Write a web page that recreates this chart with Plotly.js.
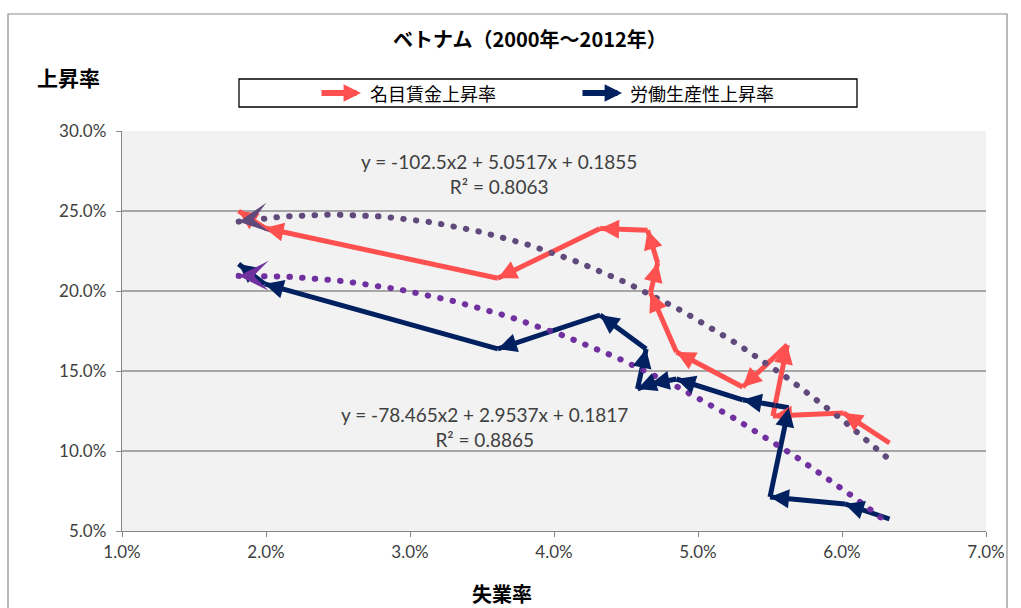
<!DOCTYPE html>
<html>
<head>
<meta charset="utf-8">
<script src="https://cdn.plot.ly/plotly-3.0.1.min.js"></script>
<style>
  html, body { margin: 0; padding: 0; background: #ffffff; }
  #chart { width: 1021px; height: 608px; }
  /* round caps turn the dotted trend lines into dots */
  .scatterlayer .js-line { stroke-linecap: round; }
</style>
</head>
<body>
<div id="chart"></div>
<script>
// Unemployment rate (x) vs. nominal wage growth / labour productivity growth (y), 2000-2012
const wageX = [0.0633, 0.0601, 0.0552, 0.0562, 0.0531, 0.0485, 0.0467, 0.0472, 0.0465, 0.0432, 0.0361, 0.0199, 0.0181];
const wageY = [0.1050, 0.1238, 0.1219, 0.1663, 0.1400, 0.1619, 0.1990, 0.2175, 0.2380, 0.2390, 0.2080, 0.2394, 0.2500];
const prodX = [0.0633, 0.0602, 0.0550, 0.0563, 0.0531, 0.0485, 0.0467, 0.0458, 0.0464, 0.0432, 0.0361, 0.0199, 0.0181];
const prodY = [0.0575, 0.0669, 0.0713, 0.1270, 0.1320, 0.1450, 0.1419, 0.1388, 0.1638, 0.1850, 0.1638, 0.2044, 0.2169];

// Polynomial (order 2) trend coefficients [a, b, c] for y = a x^2 + b x + c
const wageTrend = [-102.5, 5.0517, 0.1855];
const prodTrend = [-78.465, 2.9537, 0.1817];
const wageR2 = 0.8063;
const prodR2 = 0.8865;

const seriesNames = ['名目賃金上昇率', '労働生産性上昇率'];
const xTicks = [0.01, 0.02, 0.03, 0.04, 0.05, 0.06, 0.07];
const yTicks = [0.05, 0.10, 0.15, 0.20, 0.25, 0.30];

const RED = '#ff5050';
const NAVY = '#002060';
const WAGE_TREND = '#604a7b';
const PROD_TREND = '#7030a0';

function trendCurve(coef, xs) {
  const lo = Math.min.apply(null, xs), hi = Math.max.apply(null, xs);
  const px = [], py = [];
  const n = 120;
  for (let i = 0; i <= n; i++) {
    const x = lo + (hi - lo) * i / n;
    px.push(x);
    py.push(coef[0] * x * x + coef[1] * x + coef[2]);
  }
  return {x: px, y: py};
}

const wageCurve = trendCurve(wageTrend, wageX);
const prodCurve = trendCurve(prodTrend, prodX);

const traces = [
  {x: wageCurve.x, y: wageCurve.y, type: 'scatter', mode: 'lines', hoverinfo: 'skip', showlegend: false,
   line: {color: WAGE_TREND, width: 6, dash: '0.5px,12.2px'}},
  {x: prodCurve.x, y: prodCurve.y, type: 'scatter', mode: 'lines', hoverinfo: 'skip', showlegend: false,
   line: {color: PROD_TREND, width: 6, dash: '0.5px,12.2px'}}
];

const shapes = [];
const annotations = [];

// each year-to-year move is its own segment, with an arrowhead at its end
function addPath(xs, ys, color) {
  for (let i = 0; i + 1 < xs.length; i++) {
    shapes.push({type: 'line', xref: 'x', yref: 'y', layer: 'between',
      x0: xs[i], y0: ys[i], x1: xs[i + 1], y1: ys[i + 1],
      line: {color: color, width: 5}});
    annotations.push({xref: 'x', yref: 'y', axref: 'x', ayref: 'y',
      x: xs[i + 1], y: ys[i + 1], ax: xs[i], ay: ys[i],
      text: '', showarrow: true, arrowhead: 2, arrowwidth: 0.5, arrowsize: 7.6,
      arrowcolor: color, standoff: 0});
  }
}
addPath(wageX, wageY, RED);
addPath(prodX, prodY, NAVY);

// arrowheads at the left end of the trend curves
function trendHead(curve, color) {
  annotations.push({xref: 'x', yref: 'y', axref: 'x', ayref: 'y',
    x: curve.x[0], y: curve.y[0], ax: curve.x[3], ay: curve.y[3],
    text: '', showarrow: true, arrowhead: 3, arrowwidth: 0.1, arrowsize: 50,
    arrowcolor: color, standoff: 0});
}
trendHead(wageCurve, WAGE_TREND);
trendHead(prodCurve, PROD_TREND);

function fmtCoef(v) { return (v < 0 ? '-' : '') + Math.abs(v); }
function eqText(coef, r2) {
  return 'y = ' + fmtCoef(coef[0]) + 'x2 ' + (coef[1] < 0 ? '- ' : '+ ') + Math.abs(coef[1]) + 'x ' +
    (coef[2] < 0 ? '- ' : '+ ') + Math.abs(coef[2]) + '<br>R² = ' + r2.toFixed(4);
}
const eqFont = {family: 'Lato, "DejaVu Sans", sans-serif', size: 19, color: '#404040'};
annotations.push({xref: 'paper', yref: 'paper', x: 0.4358, y: 0.8925, xanchor: 'center', yanchor: 'middle',
  text: eqText(wageTrend, wageR2), showarrow: false, font: eqFont});
annotations.push({xref: 'paper', yref: 'paper', x: 0.4201, y: 0.2612, xanchor: 'center', yanchor: 'middle',
  text: eqText(prodTrend, prodR2), showarrow: false, font: eqFont});

// axis captions
const capFont = {family: '"Noto Sans CJK JP", sans-serif', size: 21, color: '#000000'};
annotations.push({xref: 'paper', yref: 'paper', x: -0.0625, y: 1.135, xanchor: 'center', yanchor: 'middle',
  text: '<b>上昇率</b>', showarrow: false, font: capFont});
annotations.push({xref: 'paper', yref: 'paper', x: 0.4398, y: -0.157, xanchor: 'center', yanchor: 'middle',
  text: '<b>失業率</b>', showarrow: false, font: {family: capFont.family, size: 20, color: '#000000'}});

// legend box with arrow keys
shapes.push({type: 'rect', xref: 'paper', yref: 'paper', layer: 'above',
  x0: (239 - 122) / 864, x1: (857 - 122) / 864, y0: (531 - 107) / 400, y1: (531 - 79) / 400,
  line: {color: '#000000', width: 1.3}, fillcolor: 'rgba(255,255,255,1)'});
const legColors = [RED, NAVY];
const legArrowTip = [0.2766, 0.5787];
const legTextLeft = [0.2847, 0.5856];
const legFont = {family: '"Noto Sans CJK JP", sans-serif', size: 18, color: '#000000'};
for (let k = 0; k < seriesNames.length; k++) {
  annotations.push({xref: 'paper', yref: 'paper', x: legArrowTip[k], y: 1.095, ax: -41, ay: 0,
    text: '', showarrow: true, arrowhead: 2, arrowwidth: 6, arrowsize: 0.58, arrowcolor: legColors[k], standoff: 0});
  annotations.push({xref: 'paper', yref: 'paper', x: legTextLeft[k], y: 1.095, xanchor: 'left', yanchor: 'middle',
    text: seriesNames[k], showarrow: false, font: legFont});
}

// outer chart frame
shapes.push({type: 'rect', xref: 'paper', yref: 'paper', layer: 'below',
  x0: (8 - 122) / 864, x1: (1007 - 122) / 864, y0: -0.3, y1: (531 - 14) / 400,
  line: {color: '#8c8c8c', width: 1.2}, fillcolor: 'rgba(0,0,0,0)'});

const tickFont = {family: 'Lato, "DejaVu Sans", sans-serif', size: 17, color: '#404040'};

const layout = {
  width: 1021, height: 608,
  margin: {l: 122, r: 35, t: 131, b: 77, pad: 0},
  paper_bgcolor: '#ffffff',
  plot_bgcolor: '#f2f2f2',
  showlegend: false,
  title: {text: '<b>ベトナム（2000年～2012年）</b>', x: 0.519, xanchor: 'center', y: 0.934, yanchor: 'middle',
    font: {family: '"Noto Sans CJK JP", sans-serif', size: 20, color: '#000000'}},
  xaxis: {range: [0.01, 0.07], tickvals: xTicks, tickformat: '.1%', showgrid: false, zeroline: false,
    showline: true, linecolor: '#868686', linewidth: 1.3, ticks: 'outside', ticklen: 5, tickcolor: '#868686',
    tickfont: tickFont, fixedrange: true},
  yaxis: {range: [0.05, 0.30], tickvals: yTicks, tickformat: '.1%', showgrid: true, gridcolor: '#a6a6a6', gridwidth: 1.3,
    zeroline: false, showline: true, linecolor: '#868686', linewidth: 1.3, ticks: 'outside', ticklen: 5,
    tickcolor: '#868686', tickfont: tickFont, ticklabelstandoff: 6, fixedrange: true},
  shapes: shapes,
  annotations: annotations
};

Plotly.newPlot('chart', traces, layout, {displayModeBar: false, staticPlot: true});
</script>
</body>
</html>
